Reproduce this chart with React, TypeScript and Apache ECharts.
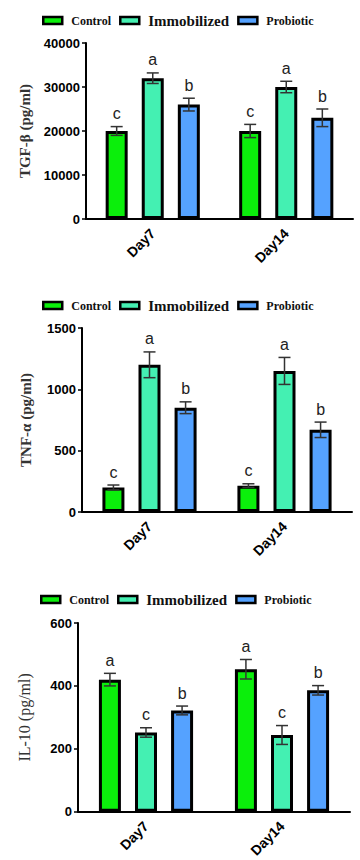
import React, { useEffect, useRef } from "react";
import * as echarts from "echarts";

const categories = ["Day7", "Day14"];
const seriesNames = ["Control", "Immobilized", "Probiotic"];
const seriesColors = ["#0BEF0B", "#44F0B2", "#55A2FF"];

// TGF-β (pg/ml)
const tgfControl = [20000, 20000];
const tgfControlErr = [1000, 1500];
const tgfImmobilized = [32000, 30000];
const tgfImmobilizedErr = [1200, 1300];
const tgfProbiotic = [26000, 23000];
const tgfProbioticErr = [1450, 2000];
const tgfLetters = [["c", "c"], ["a", "a"], ["b", "b"]];

// TNF-α (pg/ml)
const tnfControl = [200, 215];
const tnfControlErr = [20, 15];
const tnfImmobilized = [1200, 1150];
const tnfImmobilizedErr = [105, 110];
const tnfProbiotic = [850, 670];
const tnfProbioticErr = [48, 63];
const tnfLetters = [["c", "c"], ["a", "a"], ["b", "b"]];

// IL-10 (pg/ml)
const ilControl = [420, 453];
const ilControlErr = [20, 31];
const ilImmobilized = [252, 244];
const ilImmobilizedErr = [15, 30];
const ilProbiotic = [322, 386];
const ilProbioticErr = [14, 15];
const ilLetters = [["a", "a"], ["c", "c"], ["b", "b"]];

const yTicksTgf = { min: 0, max: 40000, interval: 10000 };
const yTicksTnf = { min: 0, max: 1500, interval: 500 };
const yTicksIl = { min: 0, max: 600, interval: 200 };

const panels = [
  {
    name: "TGF-β (pg/ml)",
    values: [tgfControl, tgfImmobilized, tgfProbiotic],
    errs: [tgfControlErr, tgfImmobilizedErr, tgfProbioticErr],
    letters: tgfLetters,
    ticks: yTicksTgf,
    grid: { left: 86, right: 7, top: 43, height: 176 },
    legend: { left: 37, top: 8 },
    nameBold: true,
    nameGap: 52,
  },
  {
    name: "TNF-α (pg/ml)",
    values: [tnfControl, tnfImmobilized, tnfProbiotic],
    errs: [tnfControlErr, tnfImmobilizedErr, tnfProbioticErr],
    letters: tnfLetters,
    ticks: yTicksTnf,
    grid: { left: 82, right: 8, top: 328, height: 184 },
    legend: { left: 37, top: 293 },
    nameBold: true,
    nameGap: 49,
  },
  {
    name: "IL-10 (pg/ml)",
    values: [ilControl, ilImmobilized, ilProbiotic],
    errs: [ilControlErr, ilImmobilizedErr, ilProbioticErr],
    letters: ilLetters,
    ticks: yTicksIl,
    grid: { left: 78, right: 10, top: 623, height: 189 },
    legend: { left: 35, top: 587 },
    nameBold: false,
    nameGap: 46,
  },
];

const BAR_W = 22;
const GAP_RATIO = 0.64;

export default function App() {
  const ref = useRef<HTMLDivElement>(null);

  useEffect(() => {
    if (!ref.current) return;
    const chart = echarts.init(ref.current, null, { renderer: "svg" });

    const grid = panels.map((p) => ({ ...p.grid }));
    const xAxis = panels.map((p, i) => ({
      type: "category",
      gridIndex: i,
      data: categories,
      axisLine: { lineStyle: { color: "#000", width: 2 } },
      axisTick: { alignWithLabel: true, length: 4, lineStyle: { color: "#000", width: 1.5 } },
      axisLabel: {
        interval: 0,
        rotate: 45,
        margin: 12,
        color: "#000",
        fontFamily: "Liberation Sans",
        fontWeight: "bold",
        fontSize: 14,
      },
    }));
    const yAxis = panels.map((p, i) => ({
      type: "value",
      gridIndex: i,
      min: p.ticks.min,
      max: p.ticks.max,
      interval: p.ticks.interval,
      name: p.name,
      nameLocation: "middle",
      nameGap: p.nameGap,
      nameTextStyle: {
        fontFamily: "Liberation Serif",
        fontWeight: p.nameBold ? "bold" : "normal",
        fontSize: p.nameBold ? 15 : 16,
        color: "#333",
      },
      axisLine: { show: true, lineStyle: { color: "#000", width: 2 } },
      axisTick: { show: true, length: 4, lineStyle: { color: "#000", width: 1.5 } },
      splitLine: { show: false },
      axisLabel: {
        margin: 6,
        color: "#000",
        fontFamily: "Liberation Sans",
        fontWeight: "bold",
        fontSize: 13,
        formatter: (v: number) => String(v),
      },
    }));

    const series: any[] = [];
    panels.forEach((p, pi) => {
      seriesNames.forEach((sn, si) => {
        series.push({
          type: "bar",
          name: sn,
          xAxisIndex: pi,
          yAxisIndex: pi,
          data: p.values[si],
          barWidth: BAR_W,
          barGap: GAP_RATIO * 100 + "%",
          itemStyle: { color: seriesColors[si], borderColor: "#000", borderWidth: 3 },
        });
      });
      seriesNames.forEach((sn, si) => {
        const offset = (si - 1) * BAR_W * (1 + GAP_RATIO);
        const letters = p.letters[si];
        series.push({
          type: "custom",
          name: sn + " SEM",
          xAxisIndex: pi,
          yAxisIndex: pi,
          z: 10,
          encode: { x: 0, y: 1 },
          data: p.values[si].map((v, i) => [i, v, p.errs[si][i]]),
          renderItem: (params: any, api: any) => {
            const i = api.value(0);
            const v = api.value(1);
            const e = api.value(2);
            const c = api.coord([i, v]);
            const t = api.coord([i, v + e]);
            const b = api.coord([i, v - e]);
            const x = c[0] + offset;
            const st = { stroke: "#333", lineWidth: 1.5 };
            return {
              type: "group",
              children: [
                { type: "line", shape: { x1: x, y1: t[1], x2: x, y2: b[1] }, style: st },
                { type: "line", shape: { x1: x - 6, y1: t[1], x2: x + 6, y2: t[1] }, style: st },
                { type: "line", shape: { x1: x - 6, y1: b[1], x2: x + 6, y2: b[1] }, style: st },
                {
                  type: "text",
                  style: {
                    text: letters[params.dataIndex],
                    x,
                    y: t[1] - 5,
                    align: "center",
                    verticalAlign: "bottom",
                    fontSize: 16,
                    fontFamily: "Liberation Sans",
                    fill: "#222",
                  },
                },
              ],
            };
          },
        });
      });
    });

    const legend = panels.map((p) => ({
      left: p.legend.left,
      top: p.legend.top,
      orient: "horizontal",
      icon: "rect",
      itemWidth: 19,
      itemHeight: 7,
      itemGap: 8,
      selectedMode: false,
      itemStyle: { borderColor: "#000", borderWidth: 2.5 },
      textStyle: {
        fontFamily: "Liberation Serif",
        fontWeight: "bold",
        color: "#111",
        padding: [0, 0, 0, 4],
      },
      data: [
        { name: "Control", textStyle: { fontSize: 12 } },
        { name: "Immobilized", textStyle: { fontSize: 15 } },
        { name: "Probiotic", textStyle: { fontSize: 12 } },
      ],
    }));

    chart.setOption({
      animation: false,
      backgroundColor: "#fff",
      grid,
      xAxis,
      yAxis,
      legend,
      series,
    });

    return () => chart.dispose();
  }, []);

  return (
    <div
      ref={ref}
      style={{ position: "absolute", left: 0, top: 0, width: 360, height: 860 }}
    />
  );
}
